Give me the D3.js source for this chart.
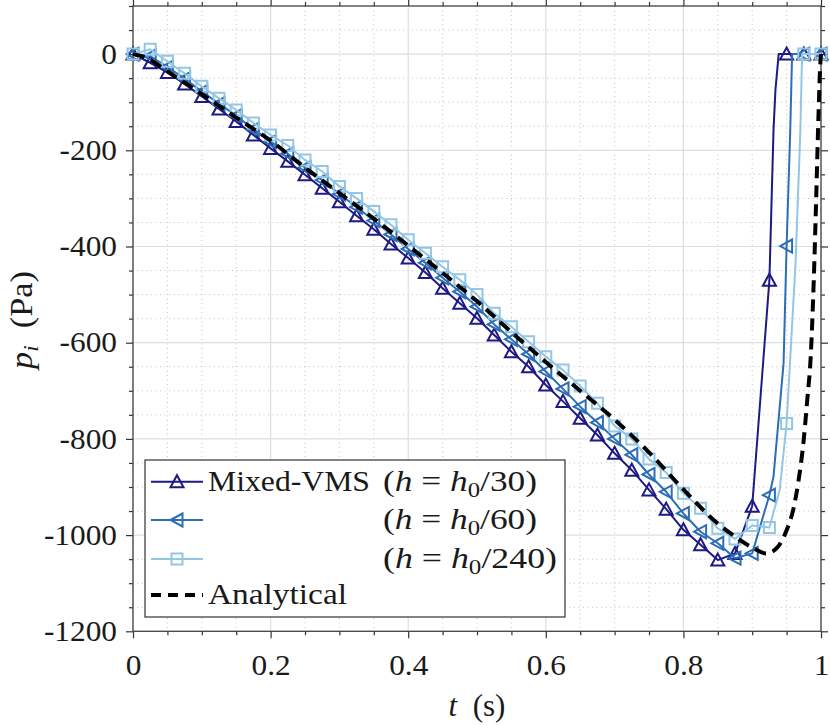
<!DOCTYPE html>
<html><head><meta charset="utf-8">
<script src="https://cdn.jsdelivr.net/npm/d3@7"></script>
<style>
body{margin:0;background:#fff;}
svg{display:block;}
text{font-family:"Liberation Serif","Times New Roman",serif;fill:#1a1a1a;}
</style>
</head><body>
<svg id="c" width="830" height="725"></svg>
<script>
// ---------------- data ----------------
const markerTimes = [0,0.025,0.05,0.075,0.1,0.125,0.15,0.175,0.2,0.225,0.25,0.275,0.3,0.325,0.35,0.375,0.4,0.425,0.45,0.475,0.5,0.525,0.55,0.575,0.6,0.625,0.65,0.675,0.7,0.725,0.75,0.775,0.8,0.825,0.85,0.875,0.9,0.925,0.95,0.975,1];

const h30P  = [0,-18,-38,-62,-88,-114,-140,-168,-196,-223,-251,-279,-307,-336,-364,-395,-424,-454,-487,-518,-549,-584,-619,-650,-688,-722,-757,-792,-830,-865,-906,-946,-989,-1020,-1052,-1038,-940,-470,0,0,0];
const h30ExtraT = [0.931,0.9338,0.9385];
const h30ExtraP = [-157,-74,0];

const h60P  = [0,-4,-27,-51,-78,-103,-128,-156,-182,-207,-236,-262,-291,-318,-346,-375,-405,-434,-465,-494,-525,-562,-593,-624,-660,-696,-733,-766,-800,-833,-874,-910,-955,-993,-1017,-1048,-1038,-917,-399,0,0];
const h60ExtraT = [0.931,0.9456,0.9553,0.958];
const h60ExtraP = [-878,-643,-158,0];

const h240P = [0,10,-15,-40,-67,-92,-116,-143,-168,-190,-220,-244,-275,-300,-327,-355,-386,-414,-442,-469,-500,-539,-567,-598,-629,-657,-690,-726,-773,-800,-842,-870,-913,-944,-986,-1008,-980,-984,-768,0,0];
const h240ExtraT = [0.94,0.963,0.970,0.9725];
const h240ExtraP = [-906,-435,-158,0];

const analyticT = [0,0.02,0.05,0.1,0.15,0.2,0.25,0.3,0.35,0.4,0.45,0.5,0.55,0.6,0.65,0.7,0.75,0.8,0.85,0.875,0.9,0.92,0.935,0.95,0.96,0.967,0.975,0.98,0.985,0.9895,0.993,0.9965,0.999,1];
const analyticP = [0,-8,-36,-83,-132,-180,-236,-289,-342,-398,-455,-514,-578,-640,-700,-760,-828,-905,-976,-1003,-1026,-1038,-1028,-990,-945,-890,-800,-719,-630,-470,-300,-120,-20,0];

const xMajorTicks = [0,0.2,0.4,0.6,0.8,1];
const xTickLabels = ["0","0.2","0.4","0.6","0.8","1"];
const xMinorTicks = [0.05,0.1,0.15,0.25,0.3,0.35,0.45,0.5,0.55,0.65,0.7,0.75,0.85,0.9,0.95];
const yMajorTicks = [0,-200,-400,-600,-800,-1000,-1200];
const yTickLabels = ["0","-200","-400","-600","-800","-1000","-1200"];
const yMinorTicks = [100,50,-50,-100,-150,-250,-300,-350,-450,-500,-550,-650,-700,-750,-850,-900,-950,-1050,-1100,-1150];

const legendNames = ["Mixed-VMS","","","Analytical"];
const legendRes = ["30","60","240",""];

// ---------------- chart ----------------
const svg = d3.select('#c');
const x = d3.scaleLinear().domain([0,1]).range([133,821]);
const y = d3.scaleLinear().domain([-1200,100]).range([631.3,6]);
const X0 = x(0), X1 = x(1), Y0 = y(100), Y1 = y(-1200);

// grid
const grid = svg.append('g');
grid.selectAll('line.xm').data(xMinorTicks).join('line')
  .attr('x1',d=>x(d)).attr('x2',d=>x(d)).attr('y1',Y0).attr('y2',Y1)
  .attr('stroke','#c2c2c2').attr('stroke-width',1).attr('stroke-dasharray','1,3.5');
grid.selectAll('line.ym').data(yMinorTicks).join('line')
  .attr('y1',d=>y(d)).attr('y2',d=>y(d)).attr('x1',X0).attr('x2',X1)
  .attr('stroke','#c2c2c2').attr('stroke-width',1).attr('stroke-dasharray','1,3.5');
grid.selectAll('line.xM').data(xMajorTicks).join('line')
  .attr('x1',d=>x(d)).attr('x2',d=>x(d)).attr('y1',Y0).attr('y2',Y1)
  .attr('stroke','#dedede').attr('stroke-width',1.2);
grid.selectAll('line.yM').data(yMajorTicks).join('line')
  .attr('y1',d=>y(d)).attr('y2',d=>y(d)).attr('x1',X0).attr('x2',X1)
  .attr('stroke','#dedede').attr('stroke-width',1.2);

// axes
function styleAxis(g){
  g.select('.domain').remove();
  g.selectAll('line').attr('stroke','#333').attr('stroke-width',1.2);
  g.attr('font-family','"Liberation Serif", serif').attr('font-size',29).attr('color','#1a1a1a');
}
svg.append('g').attr('transform',`translate(0,${Y1})`)
  .call(d3.axisBottom(x).tickValues(xMajorTicks).tickFormat((d,i)=>xTickLabels[i]).tickSize(7).tickSizeOuter(0).tickPadding(16))
  .call(styleAxis);
svg.append('g').attr('transform',`translate(0,${Y1})`)
  .call(d3.axisBottom(x).tickValues(xMinorTicks).tickFormat('').tickSize(4).tickSizeOuter(0)).call(styleAxis);
svg.append('g').attr('transform',`translate(0,${Y0})`)
  .call(d3.axisTop(x).tickValues(xMajorTicks).tickFormat('').tickSize(7).tickSizeOuter(0)).call(styleAxis);
svg.append('g').attr('transform',`translate(0,${Y0})`)
  .call(d3.axisTop(x).tickValues(xMinorTicks).tickFormat('').tickSize(4).tickSizeOuter(0)).call(styleAxis);

svg.append('g').attr('transform',`translate(${X0},0)`)
  .call(d3.axisLeft(y).tickValues(yMajorTicks).tickFormat((d,i)=>yTickLabels[i]).tickSize(7).tickSizeOuter(0).tickPadding(9))
  .call(styleAxis);
svg.append('g').attr('transform',`translate(${X0},0)`)
  .call(d3.axisLeft(y).tickValues(yMinorTicks).tickFormat('').tickSize(4).tickSizeOuter(0)).call(styleAxis);
svg.append('g').attr('transform',`translate(${X1},0)`)
  .call(d3.axisRight(y).tickValues(yMajorTicks).tickFormat('').tickSize(7).tickSizeOuter(0)).call(styleAxis);
svg.append('g').attr('transform',`translate(${X1},0)`)
  .call(d3.axisRight(y).tickValues(yMinorTicks).tickFormat('').tickSize(4).tickSizeOuter(0)).call(styleAxis);
// widen tick labels slightly (Computer Modern is wider than Liberation Serif)
svg.selectAll('.tick text').each(function(){
  const len = this.getComputedTextLength();
  if(len>0) d3.select(this).attr('textLength',len*1.08).attr('lengthAdjust','spacingAndGlyphs');
});

// box
svg.append('rect').attr('x',X0).attr('y',Y0).attr('width',X1-X0).attr('height',Y1-Y0)
  .attr('fill','none').attr('stroke','#444').attr('stroke-width',1.3);

// series
const markerPaths = {
  up:   'M0,-6.5L6.5,5.5L-6.5,5.5Z',
  left: 'M-6.5,0L5.5,-6.5L5.5,6.5Z',
  sq:   'M-5.5,-5.5H5.5V5.5H-5.5Z'
};
const series = [
  {p:h30P,  et:h30ExtraT,  ep:h30ExtraP,  color:'#1d1985', marker:'up'},
  {p:h60P,  et:h60ExtraT,  ep:h60ExtraP,  color:'#2b6eb5', marker:'left'},
  {p:h240P, et:h240ExtraT, ep:h240ExtraP, color:'#93c6e4', marker:'sq'}
];
const line = d3.line().x(d=>x(d.t)).y(d=>y(d.p));
series.forEach(s=>{
  const marks = markerTimes.map((t,i)=>({t:t,p:s.p[i]}));
  const extra = s.et.map((t,i)=>({t:t,p:s.ep[i]}));
  const all = marks.concat(extra).sort((a,b)=>a.t-b.t);
  const g = svg.append('g');
  g.append('path').datum(all).attr('d',line).attr('fill','none')
    .attr('stroke',s.color).attr('stroke-width',2).attr('stroke-linejoin','round');
  g.selectAll('path.m').data(marks).join('path').attr('class','m')
    .attr('d',markerPaths[s.marker])
    .attr('transform',d=>`translate(${x(d.t)},${y(d.p)})`)
    .attr('fill','none').attr('stroke',s.color).attr('stroke-width',2);
});
const analytic = analyticT.map((t,i)=>({t:t,p:analyticP[i]}));
svg.append('path').datum(analytic).attr('d',d3.line().x(d=>x(d.t)).y(d=>y(d.p)).curve(d3.curveMonotoneX)).attr('fill','none')
  .attr('stroke','#000').attr('stroke-width',4).attr('stroke-dasharray','12,7');

// axis labels
const xl = svg.append('text').attr('x',(X0+X1)/2).attr('y',716).attr('text-anchor','middle').attr('font-size',31);
xl.append('tspan').attr('font-style','italic').text('t');
xl.append('tspan').text('\u2002(s)');

const yl = svg.append('text').attr('transform','translate(32,320) rotate(-90)').attr('text-anchor','middle').attr('font-size',32)
  .attr('textLength',98).attr('lengthAdjust','spacingAndGlyphs');
yl.append('tspan').attr('font-style','italic').text('p');
yl.append('tspan').attr('font-style','italic').attr('font-size',22).attr('dy',6).text('i');
yl.append('tspan').attr('dy',-6).text('\u2002(Pa)');

// legend
const lg = svg.append('g');
lg.append('rect').attr('x',145).attr('y',460).attr('width',420).attr('height',157)
  .attr('fill','#fff').attr('stroke','#333').attr('stroke-width',1.2);
const rowY = [481.7,520,559,595];
series.forEach((s,i)=>{
  lg.append('line').attr('x1',151).attr('x2',203).attr('y1',rowY[i]).attr('y2',rowY[i])
    .attr('stroke',s.color).attr('stroke-width',2);
  lg.append('path').attr('d',markerPaths[s.marker]).attr('transform',`translate(177,${rowY[i]})`)
    .attr('fill','none').attr('stroke',s.color).attr('stroke-width',2);
  if(legendNames[i]) lg.append('text').attr('x',208).attr('y',rowY[i]+9).attr('font-size',29)
    .attr('textLength',162).attr('lengthAdjust','spacingAndGlyphs').text(legendNames[i]);
  const t = lg.append('text').attr('x',383).attr('y',rowY[i]+9).attr('font-size',30)
    .attr('textLength', legendRes[i].length===3?174:154).attr('lengthAdjust','spacingAndGlyphs');
  t.append('tspan').text('(');
  t.append('tspan').attr('font-style','italic').text('h');
  t.append('tspan').text('\u00a0=\u00a0');
  t.append('tspan').attr('font-style','italic').text('h');
  t.append('tspan').attr('font-size',21).attr('dy',6).text('0');
  t.append('tspan').attr('dy',-6).text('/'+legendRes[i]+')');
});
lg.append('line').attr('x1',151).attr('x2',203).attr('y1',rowY[3]).attr('y2',rowY[3])
  .attr('stroke','#000').attr('stroke-width',4).attr('stroke-dasharray','10,7');
lg.append('text').attr('x',208).attr('y',rowY[3]+9).attr('font-size',29)
  .attr('textLength',139).attr('lengthAdjust','spacingAndGlyphs').text(legendNames[3]);
</script>
</body></html>
